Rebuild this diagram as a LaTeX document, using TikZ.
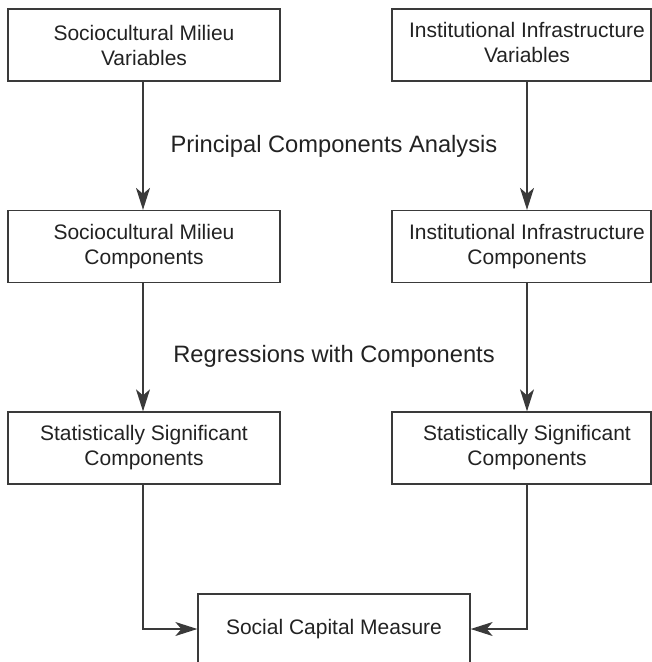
\documentclass[tikz,border=0pt]{standalone}
\usepackage{fontspec}
\setmainfont{Liberation Sans}
\usetikzlibrary{arrows.meta}
\definecolor{linecol}{HTML}{3A3A3A}
\definecolor{textcol}{HTML}{222222}
\begin{document}
\begin{tikzpicture}[x=1pt,y=-1pt,
  box/.style={draw=linecol, line width=1.3pt, rectangle, inner sep=0pt,
    minimum height=72pt, align=center, text=textcol,
    font=\fontsize{21}{25}\selectfont},
  lbl/.style={text=textcol, inner sep=0pt, anchor=base,
    font=\fontsize{23.7}{28}\selectfont},
  arr/.style={draw=linecol, line width=1.3pt,
    -{Stealth[length=22pt,width=14pt,inset=6pt]}}]
\useasboundingbox (0,0) rectangle (652,662);
\clip (0,0) rectangle (652,662);
% left column
\node[box, minimum width=272pt] (smv) at (144,45) {Sociocultural Milieu\\Variables};
\node[box, minimum width=272pt] (smc) at (144,246.5) {Sociocultural Milieu\\Components};
\node[box, minimum width=272pt] (ssl) at (144,448) {Statistically Significant\\Components};
% right column
\node[box, minimum width=259pt] (iiv) at (521.5,45) {\hspace*{5.5pt}\begin{tabular}{@{}c@{}}Institutional Infrastructure\\Variables\end{tabular}\hspace*{-5.5pt}};
\node[box, minimum width=259pt] (iic) at (521.5,246.5) {\hspace*{5.5pt}\begin{tabular}{@{}c@{}}Institutional Infrastructure\\Components\end{tabular}\hspace*{-5.5pt}};
\node[box, minimum width=259pt] (ssr) at (521.5,448) {\hspace*{5.5pt}\begin{tabular}{@{}c@{}}Statistically Significant\\Components\end{tabular}\hspace*{-5.5pt}};
% bottom
\node[box, minimum width=272pt, minimum height=70pt] (scm) at (334,629) {Social Capital Measure};
% labels
\node[lbl] (pca) at (334,152) {Principal Components Analysis};
\node[lbl] (rwc) at (334,362) {Regressions with Components};
% arrows
\draw[arr] ([xshift=-1pt]smv.south) -- ([xshift=-1pt]smc.north);
\draw[arr] ([xshift=-1pt]smc.south) -- ([xshift=-1pt]ssl.north);
\draw[arr] ([xshift=5.5pt]iiv.south) -- ([xshift=5.5pt]iic.north);
\draw[arr] ([xshift=5.5pt]iic.south) -- ([xshift=5.5pt]ssr.north);
\draw[arr] ([xshift=-1pt]ssl.south) |- (scm.west);
\draw[arr] ([xshift=5.5pt]ssr.south) |- (scm.east);
\end{tikzpicture}
\end{document}
